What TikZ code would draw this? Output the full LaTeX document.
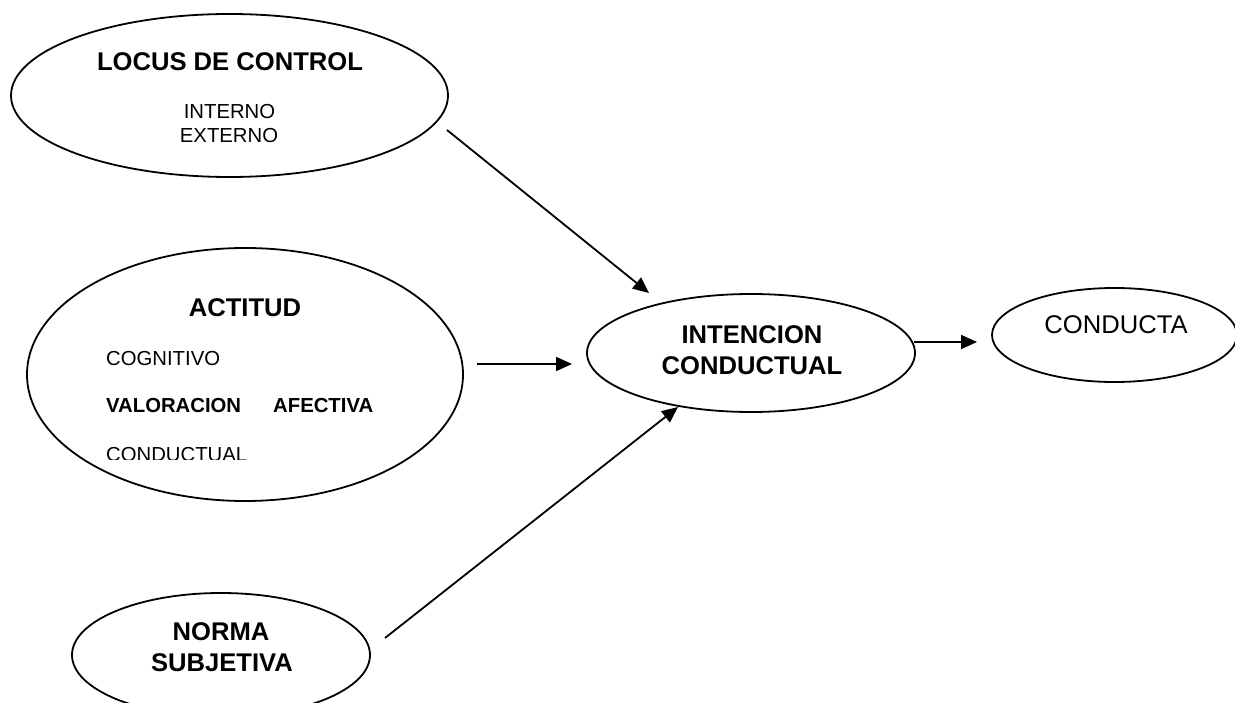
\documentclass[tikz,border=0pt]{standalone}
\usepackage{fontspec}
\setmainfont{Liberation Sans}
\usetikzlibrary{shapes.geometric,arrows.meta}
\tikzset{
  oval/.style={draw, ellipse, line width=1.8pt, inner sep=0pt},
  ttl/.style={inner sep=0pt, font=\fontsize{25.6}{31}\selectfont\bfseries},
  sub/.style={inner sep=0pt, font=\fontsize{20.3}{23}\selectfont},
  subb/.style={inner sep=0pt, font=\fontsize{20.3}{23}\selectfont\bfseries},
  big/.style={inner sep=0pt, font=\fontsize{25.6}{31}\selectfont},
  link/.style={line width=1.8pt, -{Triangle[length=16pt,width=14pt]}}
}
\begin{document}
\begin{tikzpicture}[x=1pt,y=-1pt]
\useasboundingbox (0,0) rectangle (1235,703);
% ellipses
\node[oval, minimum width=437pt, minimum height=163pt] (locus) at (229.5,95.5) {};
\node[oval, minimum width=436pt, minimum height=253pt] (actitud) at (245,374.5) {};
\node[oval, minimum width=328pt, minimum height=118pt] (intencion) at (751,353) {};
\node[oval, minimum width=245pt, minimum height=94pt] (conducta) at (1114.5,335) {};
\node[oval, minimum width=298pt, minimum height=124pt] (norma) at (221,655) {};
% texts
\node[ttl] (tlocus) at (230,62) {LOCUS DE CONTROL};
\node[sub] (interno) at (229.5,112) {INTERNO};
\node[sub] (externo) at (229,135.5) {EXTERNO};
\node[ttl] (tactitud) at (245,308) {ACTITUD};
\node[sub, anchor=west] (cognitivo) at (106,359) {COGNITIVO};
\node[subb, anchor=west] (valoracion) at (106,406) {VALORACION};
\node[subb, anchor=west] (afectiva) at (273,406) {AFECTIVA};
\begin{scope}
\clip (0,0) rectangle (1235,459.5);
\node[sub, anchor=west] (conductual) at (106,454.5) {CONDUCTUAL};
\end{scope}
\node[ttl] (tint1) at (752,335) {INTENCION};
\node[ttl] (tint2) at (752,366) {CONDUCTUAL};
\node[big] (tconducta) at (1116,325) {CONDUCTA};
\node[ttl] (tnorma1) at (221,632) {NORMA};
\node[ttl] (tnorma2) at (222,663) {SUBJETIVA};
% connector end points
\coordinate (l0) at (447,130);
\coordinate (l1) at (649,293);
\coordinate (a0) at (477,364);
\coordinate (a1) at (572,364);
\coordinate (n0) at (385,638);
\coordinate (n1) at (678,407);
\coordinate (c0) at (914,342);
\coordinate (c1) at (977,342);
\draw[link] (l0) -- (l1);
\draw[link] (a0) -- (a1);
\draw[link] (n0) -- (n1);
\draw[link] (c0) -- (c1);
\end{tikzpicture}
\end{document}
